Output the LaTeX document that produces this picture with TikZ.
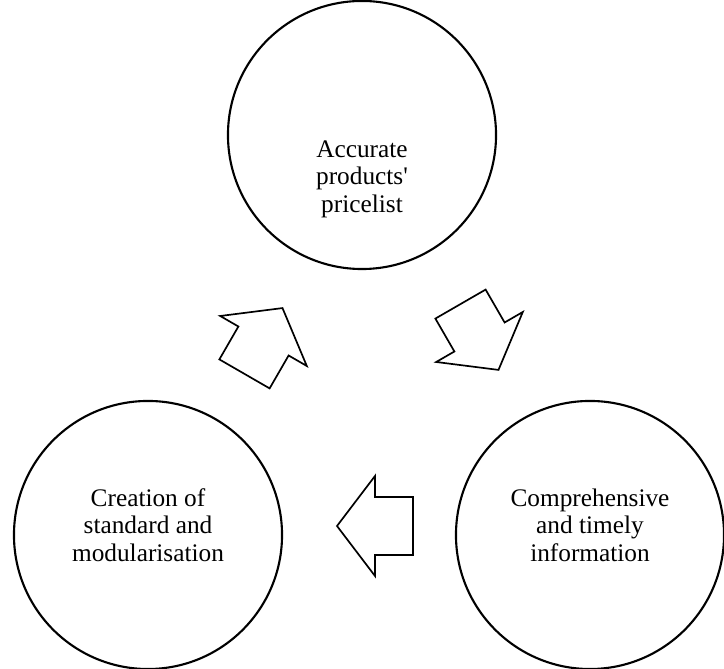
\documentclass[tikz,border=0pt]{standalone}
\usepackage{fontspec}
\setmainfont{Liberation Serif}

\tikzset{
	ring/.style={draw, circle, line width=1.5pt, minimum size=6.7cm, inner sep=0pt},
	ringtext/.style={align=center, font=\fontsize{18}{19.5}\selectfont},
	blockarrow/.style={draw, line width=1.2pt, fill=white}
}

\begin{document}
\begin{tikzpicture}[x=0.025cm, y=0.025cm]
		\useasboundingbox (0, 0) rectangle (724, 669);

		\node[ring] (price) at (362, 534) {};
		\node[ring] (creation) at (148, 134) {};
		\node[ring] (info) at (590, 134) {};

		\node[ringtext] (pricetext) at (price.center) [yshift=-1.1cm] {Accurate\\products\textquotesingle\\pricelist};
		\node[ringtext] (creationtext) at (creation.center) [yshift=0.25cm] {Creation of\\standard and\\modularisation};
		\node[ringtext] (infotext) at (info.center) [yshift=0.25cm] {Comprehensive\\and timely\\information};

		\foreach \px/\py/\ang in {263.5/328/60, 479.5/332/-60, 375/143/180}
			\draw[blockarrow, shift={(\px, \py)}, rotate=\ang]
				(-38, -29) -- (0, -29) -- (0, -50) -- (38, 0) -- (0, 50) -- (0, 29) -- (-38, 29) -- cycle;
	\end{tikzpicture}
\end{document}
